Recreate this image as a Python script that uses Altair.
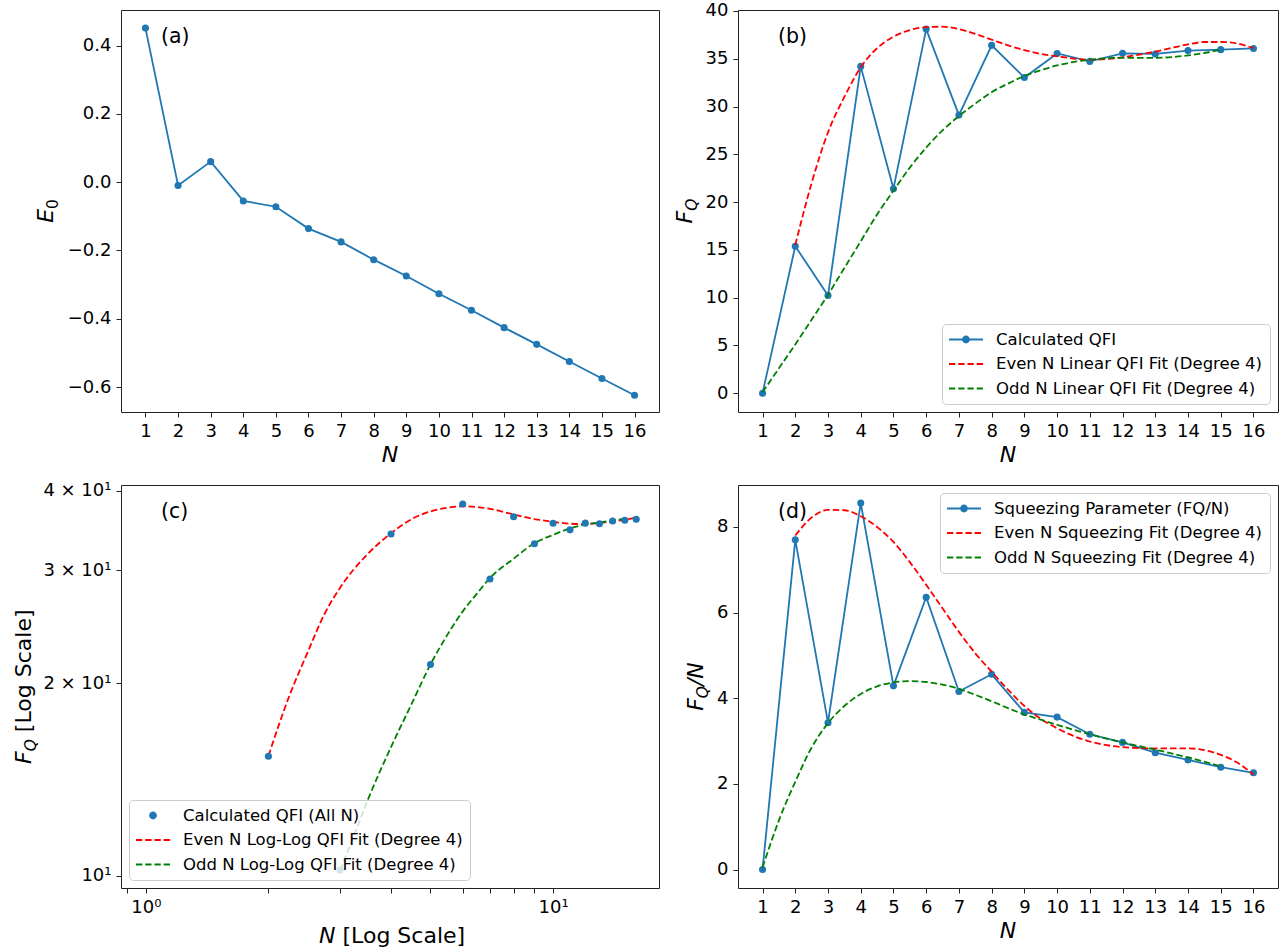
import altair as alt
import pandas as pd

FONT = "DejaVu Sans"
BLUE, RED, GREEN = "#1f77b4", "#ff0000", "#008000"

# ---------------- data ----------------
N = list(range(1, 17))
E0 = [0.451, -0.010, 0.060, -0.055, -0.072, -0.136, -0.175, -0.227, -0.275,
      -0.327, -0.375, -0.426, -0.475, -0.525, -0.575, -0.624]
FQ = [0.0, 15.38, 10.22, 34.2, 21.4, 38.1, 29.1, 36.4, 33.03, 35.55, 34.72,
      35.57, 35.5, 35.85, 35.95, 36.08]
FQ_PER_N = [0.0, 7.70, 3.43, 8.56, 4.29, 6.36, 4.16, 4.56, 3.67, 3.56, 3.16,
            2.97, 2.73, 2.56, 2.39, 2.26]

LIN_EVEN_N = [2, 2.5, 3, 3.5, 4, 4.5, 5, 5.5, 6, 6.5, 7, 7.5, 8, 8.5, 9, 9.5,
              10, 11, 12, 13, 14, 14.5, 15, 15.5, 16]
LIN_EVEN_F = [15.5, 22.0, 27.3, 31.0, 34.1, 36.1, 37.3, 38.0, 38.3, 38.35, 38.1,
              37.6, 37.0, 36.4, 35.9, 35.5, 35.25, 34.9, 35.15, 35.75, 36.5,
              36.75, 36.75, 36.6, 36.1]
LIN_ODD_N = [1, 1.5, 2, 2.5, 3, 3.5, 4, 4.5, 5, 5.5, 6, 6.5, 7, 7.5, 8, 8.5, 9,
             9.5, 10, 11, 12, 13, 14, 14.5, 15]
LIN_ODD_F = [0.1, 2.6, 5.1, 7.7, 10.3, 13.1, 15.9, 18.7, 21.2, 23.6, 25.7, 27.5,
             29.0, 30.3, 31.5, 32.4, 33.2, 33.8, 34.3, 34.9, 35.1, 35.1, 35.35,
             35.6, 35.95]

LOG_EVEN_N = [2, 2.25, 2.5, 2.75, 3, 3.5, 4, 4.5, 5, 5.5, 6, 7, 8, 9, 10, 11,
              12, 13, 14, 15, 16]
LOG_EVEN_F = [15.4, 19.1, 22.4, 25.7, 28.2, 31.8, 34.3, 36.1, 37.1, 37.6, 37.8,
              37.45, 36.7, 36.1, 35.75, 35.5, 35.45, 35.6, 35.8, 36.0, 36.3]
LOG_ODD_N = [3, 3.25, 3.5, 4, 4.5, 5, 5.5, 6, 6.5, 7, 8, 9, 10, 11, 12, 13, 14, 15]
LOG_ODD_F = [10.2, 11.6, 13.1, 15.9, 18.6, 21.4, 23.8, 25.9, 27.6, 29.2, 31.3,
             33.1, 34.1, 34.9, 35.4, 35.65, 35.9, 36.15]

SQ_EVEN_N = [2, 2.5, 3, 3.5, 4, 4.5, 5, 5.5, 6, 6.5, 7, 7.5, 8, 8.5, 9, 9.5, 10,
             10.5, 11, 12, 13, 14, 14.5, 15, 15.5, 16]
SQ_EVEN_V = [7.8, 8.22, 8.40, 8.39, 8.25, 8.0, 7.65, 7.18, 6.65, 6.1, 5.55, 5.05,
             4.62, 4.2, 3.82, 3.52, 3.3, 3.12, 2.99, 2.86, 2.83, 2.83, 2.79,
             2.68, 2.5, 2.22]
SQ_ODD_N = [1, 1.5, 2, 2.5, 3, 3.5, 4, 4.5, 5, 5.5, 6, 6.5, 7, 7.5, 8, 8.5, 9,
            9.5, 10, 11, 12, 13, 14, 15]
SQ_ODD_V = [0.05, 1.15, 2.05, 2.85, 3.42, 3.82, 4.1, 4.28, 4.37, 4.4, 4.38, 4.32,
            4.22, 4.08, 3.93, 3.77, 3.62, 3.5, 3.38, 3.16, 2.97, 2.8, 2.62, 2.41]

LEG_B = ["Calculated QFI", "Even N Linear QFI Fit (Degree 4)",
         "Odd N Linear QFI Fit (Degree 4)"]
LEG_C = ["Calculated QFI (All N)", "Even N Log-Log QFI Fit (Degree 4)",
         "Odd N Log-Log QFI Fit (Degree 4)"]
LEG_D = ["Squeezing Parameter (FQ/N)", "Even N Squeezing Fit (Degree 4)",
         "Odd N Squeezing Fit (Degree 4)"]
PANEL_LABELS = ["(a)", "(b)", "(c)", "(d)"]

# ---------------- layout / style ----------------
W_L, W_R = 538, 540
H_T, H_B = 402, 403
LW = 1.8
DASH = [6.5, 3]
PT = 50

# legend glyphs (custom symbol paths, unit square [-1,1])
SYM_LINE_DOT = ("M-1,-0.053L1,-0.053L1,0.053L-1,0.053Z "
                "M0.229,0A0.229,0.229,0,1,1,-0.229,0A0.229,0.229,0,1,1,0.229,0Z")
SYM_DOT = "M0.229,0A0.229,0.229,0,1,1,-0.229,0A0.229,0.229,0,1,1,0.229,0Z"
SYM_DASH = ("M-1,-0.053h0.371v0.106h-0.371Z M-0.457,-0.053h0.371v0.106h-0.371Z "
            "M0.086,-0.053h0.371v0.106h-0.371Z M0.629,-0.053h0.371v0.106h-0.371Z")


def df(xs, ys):
    return pd.DataFrame({"N": xs, "y": ys})


def text_layer(txt, x, y, size, style="normal", align="left",
               baseline="alphabetic", angle=0):
    kw = dict(align=align, baseline=baseline, fontSize=size, fontStyle=style,
              font=FONT, color="black")
    if angle:
        kw["angle"] = angle
    return alt.Chart(pd.DataFrame({"t": [txt]})).mark_text(**kw).encode(
        x=alt.value(x), y=alt.value(y), text="t:N")


def y_title(pieces, xb, h):
    total = sum(p[4] for p in pieces)
    pos = h / 2 + total / 2
    out = []
    for txt, size, style, shift, length in pieces:
        out.append(text_layer(txt, xb + shift, pos, size, style, angle=270))
        pos -= length
    return out


def legend_layer(labels, colors, shapes, orient):
    leg = alt.Legend(title=None, orient=orient, offset=8, padding=7,
                     cornerRadius=4, fillColor="rgba(255,255,255,0.8)",
                     strokeColor="#cccccc", labelFont=FONT, labelFontSize=16.5,
                     labelColor="black", labelLimit=500, labelOffset=13,
                     symbolSize=1156, symbolStrokeWidth=0, symbolOpacity=1,
                     clipHeight=17, rowPadding=7.5)
    d = pd.DataFrame({"series": labels})
    return alt.Chart(d).mark_point(filled=True, opacity=0).encode(
        fill=alt.Fill("series:N", scale=alt.Scale(domain=labels, range=colors),
                      legend=leg),
        shape=alt.Shape("series:N", scale=alt.Scale(domain=labels, range=shapes),
                        legend=leg))


def lin_x():
    return alt.X("N:Q", scale=alt.Scale(domain=[0.25, 16.75], nice=False, zero=False),
                 axis=alt.Axis(values=N, format="d", title=None))


def series_layers(data, xenc, yenc, points=True, line=True):
    base = alt.Chart(data).encode(x=xenc, y=yenc)
    out = []
    if line:
        out.append(base.mark_line(color=BLUE, strokeWidth=LW))
    if points:
        out.append(base.mark_point(filled=True, color=BLUE, size=PT, opacity=1))
    return out


def fit_layer(data, xenc, yenc, color):
    return alt.Chart(data).mark_line(color=color, strokeWidth=LW, strokeDash=DASH,
                                     interpolate="monotone", clip=True).encode(
        x=xenc, y=yenc)


# ---------------- (a) ----------------
ya = alt.Y("y:Q", scale=alt.Scale(domain=[-0.673, 0.504], nice=False, zero=False),
           axis=alt.Axis(values=[-0.6, -0.4, -0.2, 0.0, 0.2, 0.4], format=".1f",
                         title=None))
panel_a = alt.layer(
    *series_layers(df(N, E0), lin_x(), ya),
    text_layer(PANEL_LABELS[0], 40, 27, 20.5, baseline="middle"),
    text_layer("N", W_L / 2, H_T + 50, 22, "italic", align="center"),
    *y_title([("E", 22, "italic", 0, 13.9), ("0", 15.4, "normal", 4.5, 9.8)], -68, H_T),
).properties(width=W_L, height=H_T)

# ---------------- (b) ----------------
yb = alt.Y("y:Q", scale=alt.Scale(domain=[-1.97, 40.1], nice=False, zero=False),
           axis=alt.Axis(values=list(range(0, 41, 5)), format="d", title=None))
panel_b = alt.layer(
    *series_layers(df(N, FQ), lin_x(), yb),
    fit_layer(df(LIN_EVEN_N, LIN_EVEN_F), lin_x(), yb, RED),
    fit_layer(df(LIN_ODD_N, LIN_ODD_F), lin_x(), yb, GREEN),
    legend_layer(LEG_B, [BLUE, RED, GREEN], [SYM_LINE_DOT, SYM_DASH, SYM_DASH],
                 "bottom-right"),
    text_layer(PANEL_LABELS[1], 40, 27, 20.5, baseline="middle"),
    text_layer("N", W_R / 2, H_T + 50, 22, "italic", align="center"),
    *y_title([("F", 22, "italic", 0, 12.65), ("Q", 15.4, "italic", 4.5, 12.1)], -46, H_T),
).properties(width=W_R, height=H_T)

# ---------------- (c) ----------------
xc = alt.X("N:Q", scale=alt.Scale(type="log", domain=[0.869, 18.2], nice=False),
           axis=alt.Axis(values=[0.9, 1, 2, 3, 4, 5, 6, 7, 8, 9, 10],
                         labelExpr="datum.value == 1 ? '10⁰' : datum.value == 10 ? '10¹' : ''",
                         title=None))
yc = alt.Y("y:Q", scale=alt.Scale(type="log", domain=[9.577, 40.8], nice=False),
           axis=alt.Axis(values=[10, 20, 30, 40],
                         labelExpr="datum.value == 10 ? '10¹' : format(datum.value / 10, 'd') + ' × 10¹'",
                         title=None))
panel_c = alt.layer(
    fit_layer(df(LOG_EVEN_N, LOG_EVEN_F), xc, yc, RED),
    fit_layer(df(LOG_ODD_N, LOG_ODD_F), xc, yc, GREEN),
    *series_layers(df(N[1:], FQ[1:]), xc, yc, line=False),
    legend_layer(LEG_C, [BLUE, RED, GREEN], [SYM_DOT, SYM_DASH, SYM_DASH],
                 "bottom-left"),
    text_layer(PANEL_LABELS[2], 40, 27, 20.5, baseline="middle"),
    text_layer("N", 198, H_B + 55, 22, "italic"),
    text_layer("[Log Scale]", 221.5, H_B + 55, 22),
    *y_title([("F", 22, "italic", 0, 12.65), ("Q", 15.4, "italic", 4.5, 19.1),
              ("[Log Scale]", 22, "normal", 0, 123)], -90, H_B),
).properties(width=W_L, height=H_B)

# ---------------- (d) ----------------
yd = alt.Y("y:Q", scale=alt.Scale(domain=[-0.43, 8.98], nice=False, zero=False),
           axis=alt.Axis(values=[0, 2, 4, 6, 8], format="d", title=None))
panel_d = alt.layer(
    *series_layers(df(N, FQ_PER_N), lin_x(), yd),
    fit_layer(df(SQ_EVEN_N, SQ_EVEN_V), lin_x(), yd, RED),
    fit_layer(df(SQ_ODD_N, SQ_ODD_V), lin_x(), yd, GREEN),
    legend_layer(LEG_D, [BLUE, RED, GREEN], [SYM_LINE_DOT, SYM_DASH, SYM_DASH],
                 "top-right"),
    text_layer(PANEL_LABELS[3], 40, 27, 20.5, baseline="middle"),
    text_layer("N", W_R / 2, H_B + 50, 22, "italic", align="center"),
    *y_title([("F", 22, "italic", 0, 12.65), ("Q", 15.4, "italic", 4.5, 12.1),
              ("/N", 22, "italic", 0, 23.9)], -35, H_B),
).properties(width=W_R, height=H_B)

chart = alt.concat(
    panel_a, panel_b, panel_c, panel_d, columns=2,
    spacing=alt.RowColnumber(row=73, column=79), bounds="flush",
).resolve_scale(
    fill="independent", shape="independent"
).resolve_legend(
    fill="independent", shape="independent"
).properties(
    padding={"left": 12, "top": 1, "right": 5, "bottom": 5},
    background="white",
).configure_view(
    stroke="#222222", strokeWidth=1
).configure_axis(
    domain=False, grid=False, labelFont=FONT, labelFontSize=18,
    labelColor="black", tickColor="#222222", tickSize=5, tickWidth=1,
    labelPadding=5, labelFlush=False, labelOverlap=False,
)

chart.save("out.html", embed_options={"renderer": "svg", "actions": False})
